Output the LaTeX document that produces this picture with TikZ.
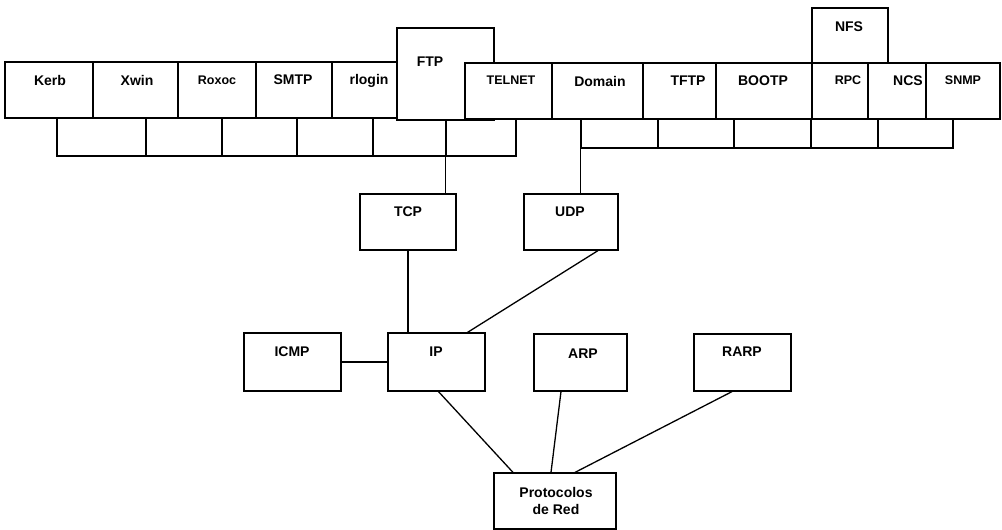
\documentclass[tikz,border=0pt]{standalone}
\usepackage{fontspec}
\setmainfont{Liberation Sans}
\usetikzlibrary{fit}
\tikzset{
  bx/.style={draw, fill=white, line width=1.2pt, inner sep=0pt, rectangle},
  cell/.style={draw, line width=1.1pt, inner sep=0pt, rectangle},
  lbl/.style={font=\bfseries\fontsize{14}{16}\selectfont, inner sep=0pt},
  slbl/.style={font=\bfseries\fontsize{12.5}{14}\selectfont, inner sep=0pt},
  wire/.style={line width=1.3pt},
}
\newcommand\mkbox[5]{\node[bx, fit={(#2,#3) (#4,#5)}] (#1) {};}
\newcommand\mkcell[5]{\node[cell, fit={(#2,#3) (#4,#5)}] (#1) {};}
\begin{document}
\begin{tikzpicture}[x=1pt,y=-1pt]
\useasboundingbox (0,0) rectangle (1002,530);
% lower strips
\mkcell{L1}{57}{118}{146}{156}
\mkcell{L2}{146}{118}{222}{156}
\mkcell{L3}{222}{118}{297}{156}
\mkcell{L4}{297}{118}{373}{156}
\mkcell{L5}{373}{118}{446}{156}
\mkcell{L6}{446}{118}{516}{156}
\mkcell{R1}{581}{119}{658}{148}
\mkcell{R2}{658}{119}{734}{148}
\mkcell{R3}{734}{119}{811}{148}
\mkcell{R4}{811}{119}{878}{148}
\mkcell{R5}{878}{119}{953}{148}
% top row
\mkbox{kerb}{5}{62}{93}{118}
\mkbox{xwin}{93}{62}{178}{118}
\mkbox{roxoc}{178}{62}{256}{118}
\mkbox{smtp}{256}{62}{332}{118}
\mkbox{rlogin}{332}{62}{397}{118}
\mkbox{ftp}{397}{28}{494}{120}
\mkbox{telnet}{465}{63}{552}{119}
\mkbox{domain}{552}{63}{643}{119}
\mkbox{tftp}{643}{63}{716}{119}
\mkbox{bootp}{716}{63}{812}{119}
\mkbox{nfs}{812}{8}{888}{63}
\mkbox{rpc}{812}{63}{868}{119}
\mkbox{ncs}{868}{63}{926}{119}
\mkbox{snmp}{926}{63}{1000}{119}
% middle
\mkbox{tcp}{360}{194}{456}{250}
\mkbox{udp}{524}{194}{618}{250}
\mkbox{icmp}{244}{333}{341}{391}
\mkbox{ip}{388}{333}{485}{391}
\mkbox{arp}{534}{334}{627}{391}
\mkbox{rarp}{694}{334}{791}{391}
\mkbox{proto}{494}{473}{616}{529}
% texts
\node[lbl] (tkerb) at (50,80) {Kerb};
\node[lbl] (txwin) at (137,80) {Xwin};
\node[slbl] (troxoc) at (217,80) {Roxoc};
\node[lbl] (tsmtp) at (293,80) {SMTP};
\node[lbl] (trlogin) at (369,81) {rlogin};
\node[lbl] (tftp) at (430,62) {FTP};
\node[slbl] (ttelnet) at (511,80) {TELNET};
\node[lbl] (tdomain) at (600,81) {Domain};
\node[lbl] (ttftp) at (688,81) {TFTP};
\node[lbl] (tbootp) at (763,81) {BOOTP};
\node[lbl] (tnfs) at (849,27) {NFS};
\node[slbl] (trpc) at (848,80) {RPC};
\node[lbl] (tncs) at (908,81) {NCS};
\node[slbl] (tsnmp) at (963,80) {SNMP};
\node[lbl] (ttcp) at (408,212) {TCP};
\node[lbl] (tudp) at (570,212) {UDP};
\node[lbl] (ticmp) at (292,352) {ICMP};
\node[lbl] (tip) at (436,352) {IP};
\node[lbl] (tarp) at (583,354) {ARP};
\node[lbl] (trarp) at (742,352) {RARP};
\node[lbl, align=center, font=\bfseries\fontsize{14}{17}\selectfont] (tproto) at (556,501) {Protocolos\\de Red};
% connectors
\draw[wire] (tcp.north -| L6.west) -- (ftp.south -| L6.west);
\draw[wire] (udp.north -| R1.west) -- (domain.south -| R1.west);
\draw[wire] (tcp.south) -- (tcp.south |- ip.north);
\draw[wire] ([xshift=27pt]udp.south) -- ([xshift=31pt]ip.north);
\draw[wire] (icmp.east) -- (ip.west);
\draw[wire] ([xshift=2pt]ip.south) -- ([xshift=-42pt]proto.north);
\draw[wire] ([xshift=-19.5pt]arp.south) -- ([xshift=-4pt]proto.north);
\draw[wire] ([xshift=-10.5pt]rarp.south) -- ([xshift=20pt]proto.north);
\end{tikzpicture}
\end{document}
